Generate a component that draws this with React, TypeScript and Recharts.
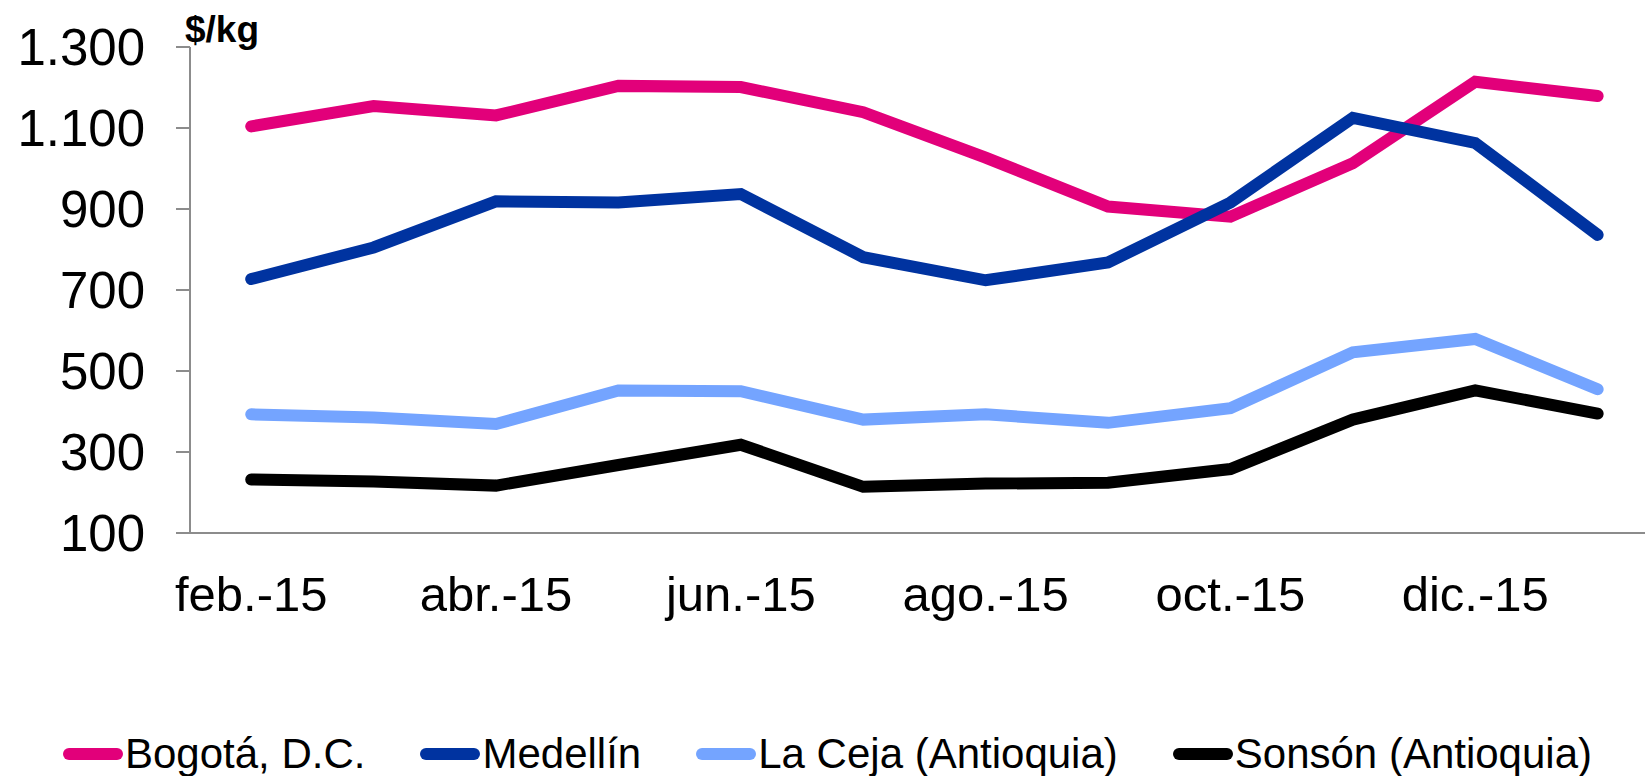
import React from "react";
import { LineChart, Line, XAxis, YAxis, Legend } from "recharts";

const months = [
  "feb.-15", "mar.-15", "abr.-15", "may.-15", "jun.-15", "jul.-15",
  "ago.-15", "sep.-15", "oct.-15", "nov.-15", "dic.-15", "ene.-16",
];
const bogota = [1104, 1154, 1131, 1204, 1201, 1139, 1027, 906, 881, 1013, 1214, 1179];
const medellin = [727, 805, 919, 916, 937, 781, 724, 768, 916, 1125, 1063, 836];
const laCeja = [393, 385, 369, 452, 450, 380, 393, 372, 408, 546, 579, 455];
const sonson = [232, 227, 217, 268, 318, 214, 222, 224, 258, 380, 452, 395];

const yTicks = [100, 300, 500, 700, 900, 1100, 1300];
const xTicks = [0, 2, 4, 6, 8, 10];

const series = [
  { key: "bogota", name: "Bogotá, D.C.", color: "#E2007A" },
  { key: "medellin", name: "Medellín", color: "#0033A0" },
  { key: "laceja", name: "La Ceja (Antioquia)", color: "#74A4FF" },
  { key: "sonson", name: "Sonsón (Antioquia)", color: "#000000" },
];

const data = months.map((m, i) => ({
  idx: i,
  month: m,
  bogota: bogota[i],
  medellin: medellin[i],
  laceja: laCeja[i],
  sonson: sonson[i],
}));

const FONT = "'Liberation Sans', Arial, sans-serif";

const fmt = (v: number) => v.toLocaleString("de-DE");

const LegendContent = () => (
  <div style={{ display: "flex", alignItems: "center", paddingLeft: 63, fontFamily: FONT, fontSize: 42, color: "#000", whiteSpace: "nowrap" }}>
    {series.map((s) => (
      <div key={s.key} style={{ display: "flex", alignItems: "center", marginRight: 55 }}>
        <div style={{ width: 60, height: 12, borderRadius: 6, background: s.color, marginRight: 2 }} />
        <span style={{ lineHeight: "48px" }}>{s.name}</span>
      </div>
    ))}
  </div>
);

const UnitLabel = (props: any) => {
  const vb = props.viewBox || {};
  return (
    <text x={vb.x + vb.width - 5} y={42} fontFamily={FONT} fontWeight="bold" fontSize={37} fill="#000">
      $/kg
    </text>
  );
};

export default function App() {
  return (
    <div style={{ position: "absolute", left: 0, top: 0, width: 1645, height: 776, background: "#fff" }}>
      <LineChart width={1645} height={776} data={data} margin={{ top: 47, right: 0, bottom: 0, left: 0 }}>
        <XAxis
          type="number"
          dataKey="idx"
          domain={[-0.5, 11.387]}
          ticks={xTicks}
          tickFormatter={(v: number) => months[v]}
          tickLine={false}
          axisLine={{ stroke: "#8c8c8c", strokeWidth: 2 }}
          tick={{ fontFamily: FONT, fontSize: 49, fill: "#000" }}
          tickMargin={37}
          height={243}
          allowDataOverflow
        />
        <YAxis
          type="number"
          domain={[100, 1300]}
          ticks={yTicks}
          tickFormatter={fmt}
          width={190}
          tickSize={14}
          tickMargin={31}
          tickLine={{ stroke: "#8c8c8c", strokeWidth: 2 }}
          axisLine={{ stroke: "#8c8c8c", strokeWidth: 2 }}
          tick={{ fontFamily: FONT, fontSize: 51, fill: "#000" }}
          label={<UnitLabel />}
        />
        {series.map((s) => (
          <Line
            key={s.key}
            dataKey={s.key}
            name={s.name}
            stroke={s.color}
            strokeWidth={12}
            strokeLinecap="round"
            strokeLinejoin="miter"
            dot={false}
            activeDot={false}
            isAnimationActive={false}
          />
        ))}
        <Legend
          layout="horizontal"
          verticalAlign="middle"
          align="center"
          wrapperStyle={{ top: 730, left: 0, width: 1645 }}
          content={<LegendContent />}
        />
      </LineChart>
    </div>
  );
}
